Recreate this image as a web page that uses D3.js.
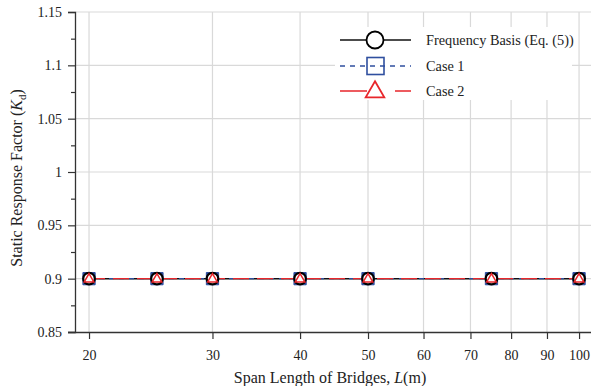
<!DOCTYPE html>
<html>
<head>
<meta charset="utf-8">
<script src="https://cdn.jsdelivr.net/npm/d3@7"></script>
<style>
body { margin: 0; background: #fff; }
text { font-family: "Liberation Serif" !important; }
</style>
</head>
<body>
<svg id="chart" width="591" height="386" font-family="Liberation Serif"></svg>
<script>
// data
var spans = [20, 25, 30, 40, 50, 75, 100];
var freqBasis = [0.9, 0.9, 0.9, 0.9, 0.9, 0.9, 0.9];
var case1 = [0.9, 0.9, 0.9, 0.9, 0.9, 0.9, 0.9];
var case2 = [0.9, 0.9, 0.9, 0.9, 0.9, 0.9, 0.9];
var xTicks = [20, 30, 40, 50, 60, 70, 80, 90, 100];
var yTicks = [0.85, 0.9, 0.95, 1, 1.05, 1.1, 1.15];
var yMinor = [0.875, 0.925, 0.975, 1.025, 1.075, 1.125];
var seriesNames = ["Frequency Basis (Eq. (5))", "Case 1", "Case 2"];

var svg = d3.select("#chart");
var x = d3.scaleLog().domain([19.1, 104]).range([75, 591]);
var y = d3.scaleLinear().domain([0.85, 1.15]).range([332, 12]);

var blue = "#2f4f9f", red = "#e8262b";

// grid
svg.append("g").selectAll("line").data(xTicks).enter().append("line")
	.attr("x1", function(d){ return x(d); }).attr("x2", function(d){ return x(d); })
	.attr("y1", y(1.15)).attr("y2", y(0.85))
	.attr("stroke", "#d9d9d9").attr("stroke-width", 1.2);
svg.append("g").selectAll("line").data(yTicks.slice(1)).enter().append("line")
	.attr("x1", x.range()[0]).attr("x2", 591)
	.attr("y1", function(d){ return y(d); }).attr("y2", function(d){ return y(d); })
	.attr("stroke", "#d9d9d9").attr("stroke-width", 1.2);

// axes
var yAxis = svg.append("g").attr("transform", "translate(75,0)")
	.call(d3.axisLeft(y).tickValues(yTicks).tickSize(7).tickPadding(6)
		.tickFormat(function(d){ return d3.format("")(+d.toFixed(2)); }));
svg.append("g").attr("transform", "translate(75,0)")
	.call(d3.axisLeft(y).tickValues(yMinor).tickSize(4).tickFormat(""))
	.select(".domain").remove();
var xAxis = svg.append("g").attr("transform", "translate(0,332)")
	.call(d3.axisBottom(x).tickValues(xTicks).tickSize(7).tickPadding(11)
		.tickFormat(d3.format("d")));
svg.selectAll("g").attr("font-family", null);
svg.selectAll(".domain").attr("stroke", "#333").attr("stroke-width", 1.3);
svg.selectAll(".tick line").attr("stroke", "#333").attr("stroke-width", 1.2);
svg.selectAll(".tick text").style("font-size", "14px").attr("fill", "#222");
xAxis.select(".domain").attr("d", "M68,0.5H591");

// axis titles
var xt = svg.append("text").attr("x", 330).attr("y", 383)
	.attr("text-anchor", "middle").style("font-size", "16px").attr("fill", "#222");
xt.append("tspan").text("Span Length of Bridges, ");
xt.append("tspan").style("font-style", "italic").text("L");
xt.append("tspan").text("(m)");

var yt = svg.append("text").attr("transform", "translate(22,178) rotate(-90)")
	.attr("text-anchor", "middle").style("font-size", "16px").attr("fill", "#222");
yt.append("tspan").text("Static Response Factor (");
yt.append("tspan").style("font-style", "italic").text("K");
yt.append("tspan").attr("dy", 4).style("font-size", "11px").text("d");
yt.append("tspan").attr("dy", -4).text(")");

// lines
var line = d3.line().x(function(d){ return x(d[0]); }).y(function(d){ return y(d[1]); });
function pts(vals){ return spans.map(function(s, i){ return [s, vals[i]]; }); }
svg.append("path").attr("d", line(pts(freqBasis))).attr("fill", "none")
	.attr("stroke", "#111").attr("stroke-width", 1.5);
svg.append("path").attr("d", line(pts(case1))).attr("fill", "none")
	.attr("stroke", blue).attr("stroke-width", 1.3).attr("stroke-dasharray", "5,5");
svg.append("path").attr("d", line(pts(case2))).attr("fill", "none")
	.attr("stroke", red).attr("stroke-width", 1.3).attr("stroke-dasharray", "16,8");

// markers
var sq = d3.symbol().type(d3.symbolSquare).size(150);
var tri = d3.symbol().type(d3.symbolTriangle).size(40);
svg.append("g").selectAll("path").data(pts(case1)).enter().append("path")
	.attr("d", sq).attr("transform", function(d){ return "translate(" + x(d[0]) + "," + y(d[1]) + ")"; })
	.attr("fill", blue).attr("stroke", blue).attr("stroke-width", 1);
svg.append("g").selectAll("circle").data(pts(freqBasis)).enter().append("circle")
	.attr("cx", function(d){ return x(d[0]); }).attr("cy", function(d){ return y(d[1]); })
	.attr("r", 5.8).attr("fill", "#fff").attr("stroke", "#000").attr("stroke-width", 2.2);
svg.append("g").selectAll("path").data(pts(case2)).enter().append("path")
	.attr("d", tri).attr("transform", function(d){ return "translate(" + x(d[0]) + "," + (y(d[1]) + 0.5) + ")"; })
	.attr("fill", "none").attr("stroke", red).attr("stroke-width", 1.5);

// legend
var lg = svg.append("g");
lg.append("rect").attr("x", 335).attr("y", 27).attr("width", 237).attr("height", 73).attr("fill", "#fff");
var rows = [40, 66, 91];
// frequency basis
lg.append("line").attr("x1", 340).attr("x2", 411).attr("y1", rows[0]).attr("y2", rows[0])
	.attr("stroke", "#111").attr("stroke-width", 1.3);
lg.append("circle").attr("cx", 375).attr("cy", rows[0]).attr("r", 8.5)
	.attr("fill", "#fff").attr("stroke", "#000").attr("stroke-width", 1.8);
// case 1
lg.append("line").attr("x1", 340).attr("x2", 411).attr("y1", rows[1]).attr("y2", rows[1])
	.attr("stroke", blue).attr("stroke-width", 1.3).attr("stroke-dasharray", "5,5");
lg.append("rect").attr("x", 367).attr("y", rows[1] - 8.5).attr("width", 17).attr("height", 17)
	.attr("fill", "none").attr("stroke", blue).attr("stroke-width", 1.6);
// case 2
lg.append("line").attr("x1", 340).attr("x2", 411).attr("y1", rows[2]).attr("y2", rows[2])
	.attr("stroke", red).attr("stroke-width", 1.3).attr("stroke-dasharray", "27,28,16");
lg.append("path").attr("d", d3.symbol().type(d3.symbolTriangle).size(150))
	.attr("transform", "translate(375," + (rows[2] + 1) + ")")
	.attr("fill", "#fff").attr("stroke", red).attr("stroke-width", 1.8);
lg.selectAll("text.lab").data(seriesNames).enter().append("text")
	.attr("x", 426).attr("y", function(d, i){ return rows[i] + 5; })
	.style("font-size", "14.3px").attr("fill", "#222")
	.text(function(d){ return d; });
</script>
</body>
</html>
